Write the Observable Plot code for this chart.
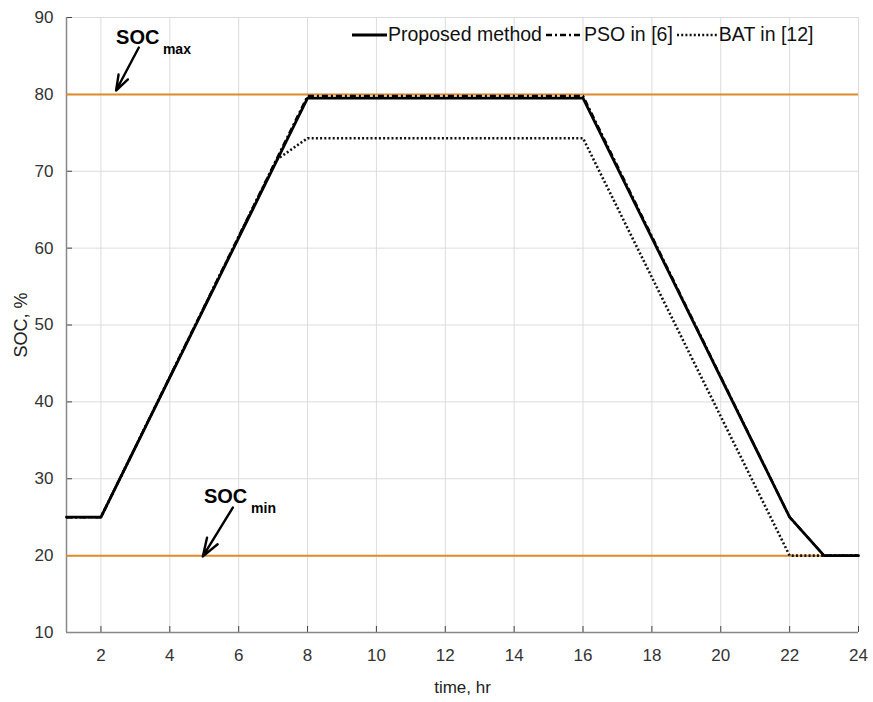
<!DOCTYPE html>
<html>
<head>
<meta charset="utf-8">
<script src="https://cdn.jsdelivr.net/npm/d3@7"></script>
<script src="https://cdn.jsdelivr.net/npm/@observablehq/plot@0.6"></script>
<style>
  html, body { margin: 0; padding: 0; background: #fff; }
  #wrap { position: relative; width: 873px; height: 702px; font-family: "Liberation Sans", Arial, sans-serif; }
  #legend { position: absolute; top: 23px; left: 352px; display: flex; align-items: center; font-size: 19.5px; color: #111; white-space: nowrap; }
  #legend .item { display: flex; align-items: center; margin-right: 4px; }
  #legend svg { margin-right: 1px; }
</style>
</head>
<body>
<div id="wrap"><div id="legend"></div></div>
<script>
// ---- data ----
const propT = [1, 2, 8, 16, 22, 23, 24];
const propSOC = [25, 25, 79.5, 79.5, 25, 20, 20];
const psoT = [1, 2, 8, 16, 22, 23, 24];
const psoSOC = [25, 25, 79.8, 79.8, 25, 20, 20];
const batT = [1, 2, 7.1, 8, 16, 22, 24];
const batSOC = [25, 25, 71.5, 74.3, 74.3, 20, 20];
const limits = [80, 20];
const xTicks = [2, 4, 6, 8, 10, 12, 14, 16, 18, 20, 22, 24];
const yTicks = [10, 20, 30, 40, 50, 60, 70, 80, 90];
const seriesNames = ["Proposed method", "PSO in [6]", "BAT in [12]"];
// annotations: label, subscript, text anchor, subscript anchor, arrow start, arrow end
const annLabels = ["SOC", "SOC"];
const annSubs = ["max", "min"];
const annTextX = [2.44, 4.99], annTextY = [86.6, 26.8];
const annSubX = [3.80, 6.36], annSubY = [85.3, 25.5];
const arrX1 = [3.10, 5.83], arrY1 = [86.1, 26.25];
const arrX2 = [2.44, 4.96], arrY2 = [80.5, 19.9];

const toRows = (t, v) => t.map((x, i) => ({x, y: v[i]}));
const prop = toRows(propT, propSOC);
const pso = toRows(psoT, psoSOC);
const bat = toRows(batT, batSOC);
const ann = annLabels.map((l, i) => ({
  label: l, sub: annSubs[i], tx: annTextX[i], ty: annTextY[i], sx: annSubX[i], sy: annSubY[i],
  x1: arrX1[i], y1: arrY1[i], x2: arrX2[i], y2: arrY2[i]
}));

const styles = [
  {stroke: "#000", strokeWidth: 2.8, dash: null, w: 35},
  {stroke: "#000", strokeWidth: 2.4, dash: "6,3,2,3", w: 37},
  {stroke: "#111", strokeWidth: 2.6, dash: "2,2.2", w: 41}
];

const chart = Plot.plot({
  width: 873,
  height: 702,
  marginLeft: 66,
  marginRight: 15,
  marginTop: 17,
  marginBottom: 70,
  style: {fontFamily: "Liberation Sans, Arial, sans-serif", background: "#fff"},
  x: {domain: [1, 24], ticks: xTicks},
  y: {domain: [10, 90], ticks: yTicks},
  marks: [
    Plot.gridX(xTicks, {stroke: "#dcdcdc", strokeOpacity: 1, strokeWidth: 1}),
    Plot.gridY(yTicks, {stroke: "#dcdcdc", strokeOpacity: 1, strokeWidth: 1}),
    Plot.axisX(xTicks, {tickSize: 0, tickPadding: 16, fontSize: 17, fill: "#333", label: null}),
    Plot.axisY(yTicks, {tickSize: 0, tickPadding: 13, fontSize: 17, fill: "#333", label: null}),
    Plot.axisX(xTicks, {tickSize: -6, tickFormat: () => "", stroke: "#444", label: null}),
    Plot.axisY(yTicks, {tickSize: -6, tickFormat: () => "", stroke: "#444", label: null}),
    Plot.ruleX([1], {stroke: "#888", strokeWidth: 1.5}),
    Plot.ruleY([10], {stroke: "#888", strokeWidth: 1.5}),
    Plot.ruleY(limits, {stroke: "#e08a2a", strokeWidth: 2}),
    Plot.line(bat, {x: "x", y: "y", stroke: styles[2].stroke, strokeWidth: styles[2].strokeWidth, strokeDasharray: styles[2].dash, strokeLinecap: "butt"}),
    Plot.line(pso, {x: "x", y: "y", stroke: styles[1].stroke, strokeWidth: styles[1].strokeWidth, strokeDasharray: styles[1].dash, strokeLinecap: "butt"}),
    Plot.line(prop, {x: "x", y: "y", stroke: styles[0].stroke, strokeWidth: styles[0].strokeWidth}),
    Plot.arrow(ann, {x1: "x1", y1: "y1", x2: "x2", y2: "y2", stroke: "#000", strokeWidth: 2.4, headLength: 14, headAngle: 38}),
    Plot.text(ann, {x: "tx", y: "ty", text: "label", textAnchor: "start", lineAnchor: "bottom", fontSize: 20, fontWeight: "bold", fill: "#000"}),
    Plot.text(ann, {x: "sx", y: "sy", text: "sub", textAnchor: "start", lineAnchor: "bottom", fontSize: 14, fontWeight: "bold", fill: "#000"}),
    Plot.text(["time, hr"], {frameAnchor: "bottom", textAnchor: "middle", dy: 60, text: d => d, fontSize: 17, fill: "#222"}),
    Plot.text(["SOC, %"], {frameAnchor: "left", textAnchor: "middle", dx: -45, rotate: -90, text: d => d, fontSize: 18, fill: "#222"})
  ]
});
document.getElementById("wrap").prepend(chart);

// legend overlay
const legend = d3.select("#legend");
seriesNames.forEach((name, i) => {
  const item = legend.append("div").attr("class", "item");
  const s = item.append("svg").attr("width", styles[i].w).attr("height", 10);
  s.append("line").attr("x1", 0).attr("x2", styles[i].w).attr("y1", 5).attr("y2", 5)
    .attr("stroke", styles[i].stroke).attr("stroke-width", styles[i].strokeWidth)
    .attr("stroke-dasharray", styles[i].dash);
  item.append("span").text(name);
});
</script>
</body>
</html>
